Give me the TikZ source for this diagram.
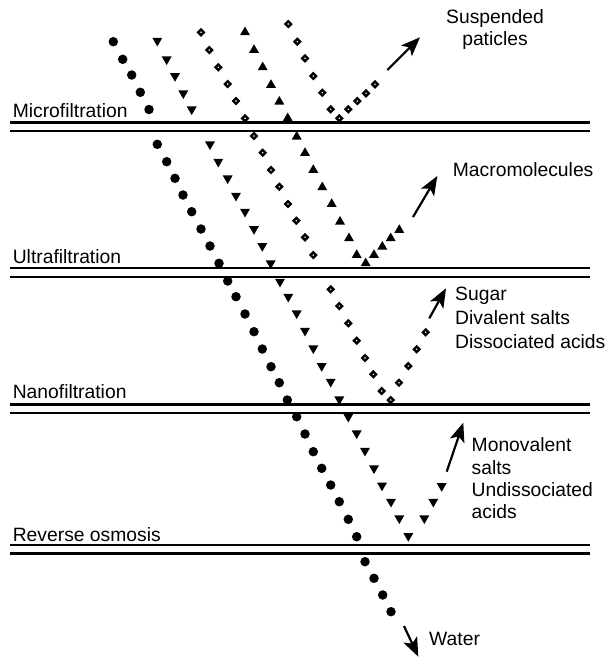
\documentclass[tikz,border=0pt]{standalone}
\usepackage{fontspec}
\setmainfont{Liberation Sans}
\usetikzlibrary{shapes.geometric,arrows.meta}
\begin{document}
\begin{tikzpicture}[x=1pt,y=-1pt,
  membrane/.style={line width=2.6pt},
  lbl/.style={inner sep=0pt,font=\fontsize{19.3}{24}\selectfont},
  dotc/.style={circle,fill=black,inner sep=0pt,minimum size=9.5pt},
  tdown/.style={regular polygon,regular polygon sides=3,shape border rotate=180,fill=black,inner sep=0pt,minimum size=11.5pt},
  tup/.style={regular polygon,regular polygon sides=3,fill=black,inner sep=0pt,minimum size=11.5pt},
  diam/.style={diamond,draw=black,fill=white,line width=2.4pt,inner sep=0pt,minimum size=6.5pt},
  outarrow/.style={line width=2.2pt,-{Stealth[length=19pt,width=15pt,inset=4.5pt]}}]
\fill[white] (0,0) rectangle (608,662);
\useasboundingbox (0,0) rectangle (608,662);

% membranes
\foreach \n/\y in {mfa/122.5,mfb/131,ufa/268,ufb/277,nfa/404.5,nfb/413,roa/545,rob/553.7}{
  \coordinate (\n l) at (10,\y);
  \coordinate (\n r) at (590,\y);
  \draw[membrane] (\n l) -- (\n r);
}

% membrane labels
\node[lbl,anchor=base west] (mf) at (12.6,117.5) {Microfiltration};
\node[lbl,anchor=base west] (uf) at (12.6,263.3) {Ultrafiltration};
\node[lbl,anchor=base west] (nf) at (12.6,398.5) {Nanofiltration};
\node[lbl,anchor=base west] (ro) at (12.6,541.5) {Reverse osmosis};

% water (circles)
\foreach \p [count=\i] in {(113.3,41.7),(122.7,59.3),(131.7,75),(140.3,92.3),(149,109.5),(157.3,144.3),(166.7,161.7),(175,178.3),(183,195),(191.7,211.7),(201,229),(210,246),(219,263.3),(227.7,281),(236,296.7),(245,314),(254,331.7),(262.3,349),(271,366.7),(279.3,382.7),(287.3,400),(296.7,416.7),(305,434),(313.3,451.7),(321.7,468.3),(330.7,485),(339.3,501.7),(348.3,519.3),(356.7,536.7),(365,561.7),(374,578.3),(382.7,595),(391,611.7)}
  \node[dotc] (c\i) at \p {};

% monovalent salts (down triangles)
\foreach \p [count=\i] in {(157.3,40.7),(166.7,59.3),(175,76),(183.3,93.3),(191.7,109.3),(210,144.3),(218.3,161.7),(227.7,178.3),(236,195.7),(245,211.7),(254,229),(262.3,246),(270.7,263.3),(280,281.7),(288.3,296.7),(296.7,313.3),(305,330.7),(313.3,348.3),(321.7,366),(330.7,381.7),(339.3,399.3),(348.3,416.7),(356.7,433.3),(365,450.7),(374,468.3),(382,485.5),(391,501.7),(399.3,518.3),(408.3,536),(424.3,518.3),(433.3,501.7),(441.7,486)}
  \node[tdown] (t\i) at \p {};

% sugar etc. (diamonds, second series)
\foreach \p [count=\i] in {(201,32.3),(209.3,50),(218.3,67.3),(227.7,84),(236,101),(245,118.3),(254,136),(262.7,152.7),(271,170),(279.3,186.7),(288,204),(296.3,220.7),(305,237.3),(313.3,255),(330.7,289.3),(339.3,306),(348.3,323.3),(356.7,340.7),(365,358),(373.3,374.3),(381.7,391),(390.7,400),(399,382.7),(408.3,366),(416.7,349.3),(425.7,332.3)}
  \node[diam] (s\i) at \p {};

% macromolecules (up triangles)
\foreach \p [count=\i] in {(245,32.3),(254,50),(262.7,67.3),(271,85),(279.3,101.7),(287.7,118.3),(296.7,136.7),(305,153),(313.3,170),(322.3,187.3),(331.7,204),(340,221.7),(349,238.3),(356.7,255),(365.7,263.3),(374,255),(382.3,246.7),(390.7,238.3),(399.3,230)}
  \node[tup] (m\i) at \p {};

% suspended particles (diamonds, first series)
\foreach \p [count=\i] in {(288.3,24),(297.3,41.7),(305,58.3),(313.3,76),(322.3,92.7),(330.7,109.3),(339.3,118.3),(348.3,109.3),(357.3,101),(366,93.3),(375,84.3)}
  \node[diam] (p\i) at \p {};

% arrows
\coordinate (a1s) at (387.3,70);   \coordinate (a1e) at (420,37.3);
\coordinate (a2s) at (413,217);    \coordinate (a2e) at (437.3,176);
\coordinate (a3s) at (429.3,318.3); \coordinate (a3e) at (446,288.3);
\coordinate (a4s) at (446.7,471.7); \coordinate (a4e) at (463.3,422.7);
\coordinate (a5s) at (404,626);    \coordinate (a5e) at (418.3,656.7);
\draw[outarrow] (a1s) -- (a1e);
\draw[outarrow] (a2s) -- (a2e);
\draw[outarrow] (a3s) -- (a3e);
\draw[outarrow] (a4s) -- (a4e);
\draw[outarrow] (a5s) -- (a5e);

% right labels (base anchor = baseline of last line)
\node[lbl,anchor=base,align=center,font=\fontsize{19.3}{22}\selectfont] (susp) at (495,45.5) {Suspended\\paticles};
\node[lbl,anchor=base west] (macro) at (452.7,176.7) {Macromolecules};
\node[lbl,anchor=base west,align=left] (sugar) at (455,348.8) {Sugar\\Divalent salts\\Dissociated acids};
\node[lbl,anchor=base west,align=left,font=\fontsize{19.3}{22.3}\selectfont] (mono) at (471.5,518.6) {Monovalent\\salts\\Undissociated\\acids};
\node[lbl,anchor=base west] (water) at (429,645) {Water};
\end{tikzpicture}
\end{document}
